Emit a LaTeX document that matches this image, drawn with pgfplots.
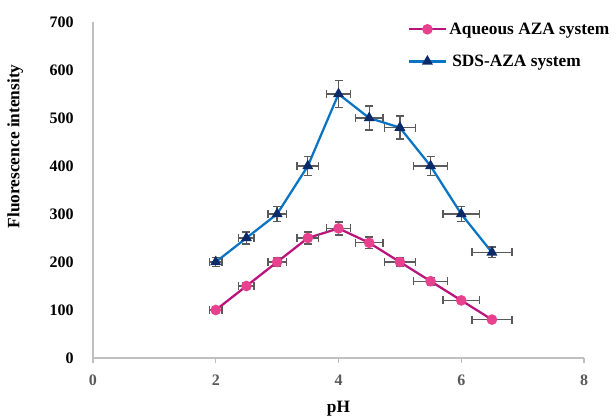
\documentclass[border=0pt]{standalone}
\usepackage{fontspec}
\setmainfont{Liberation Serif}
\usepackage{pgfplots}
\pgfplotsset{compat=1.18}
\definecolor{aqline}{HTML}{B8147C}
\definecolor{aqmark}{HTML}{E8428F}
\definecolor{sdsline}{HTML}{0A74C4}
\definecolor{sdsmark}{HTML}{0B2A6A}
\definecolor{errgrey}{HTML}{5A5A5A}
\definecolor{axisgrey}{HTML}{BFBFBF}
\definecolor{tickgrey}{HTML}{595959}

\pgfplotstableread{
x   y    ex     ey
2   100  0.10   5
2.5 150  0.125  7.5
3   200  0.15   10
3.5 250  0.175  12.5
4   270  0.20   13.5
4.5 240  0.225  12
5   200  0.25   10
5.5 160  0.275  8
6   120  0.30   6
6.5 80   0.325  4
}\aqueous
\pgfplotstableread{
x   y    ex     ey
2   200  0.10   10
2.5 250  0.125  12.5
3   300  0.15   15
3.5 400  0.175  20
4   550  0.20   27.5
4.5 500  0.225  25
5   480  0.25   24
5.5 400  0.275  20
6   300  0.30   15
6.5 220  0.325  11
}\sds

\begin{document}
\begin{tikzpicture}
\begin{axis}[
  at={(0,0)}, anchor=south west,
  scale only axis, width=368.25pt, height=252pt,
  xmin=0, xmax=8, ymin=0, ymax=700,
  xtick={0,2,4,6,8}, ytick={0,100,...,700},
  axis x line=bottom, axis y line=left,
  axis line style={-, axisgrey, line width=0.9pt},
  x tick style={axisgrey, line width=0.9pt}, tick align=outside,
  major tick length=4pt,
  y tick style={draw=none},
  xticklabel style={font=\bfseries\fontsize{12}{14}\selectfont, text=tickgrey, yshift=-5pt},
  yticklabel style={font=\bfseries\fontsize{12}{14}\selectfont, text=black, xshift=-7pt},
  /pgf/number format/assume math mode=true,
  xlabel={\textbf{pH}},
  xlabel style={font=\fontsize{13}{15}\selectfont, yshift=-4.5pt},
  ylabel={\textbf{Fluorescence intensity}},
  ylabel style={font=\fontsize{13}{15}\selectfont, at={(ticklabel cs:0.63,13pt)}},
  legend style={at={(rel axis cs:0.633,1.015)}, anchor=north west, draw=none, fill=none,
    font=\bfseries\fontsize{13}{15}\selectfont, row sep=10pt},
  legend cell align=left,
  legend image code/.code={
    \draw[mark repeat=2,mark phase=2] plot coordinates {(0cm,0cm) (0.48cm,0cm) (0.96cm,0cm)};},
  clip=false,
]
\addplot[aqline, line width=1.7pt, mark=*, mark size=3.1pt,
  mark options={fill=aqmark, draw=aqmark},
  error bars/.cd, x dir=both, x explicit, y dir=both, y explicit,
  error bar style={errgrey, line width=1pt},
  error mark options={errgrey, line width=1pt, rotate=90, mark size=3pt}]
  table[x=x, y=y, x error=ex, y error=ey] {\aqueous};
\addlegendentry{Aqueous AZA system}
\addplot[sdsline, line width=1.7pt, mark=triangle*, mark size=3.1pt,
  mark options={fill=sdsmark, draw=sdsmark},
  error bars/.cd, x dir=both, x explicit, y dir=both, y explicit,
  error bar style={errgrey, line width=1pt},
  error mark options={errgrey, line width=1pt, rotate=90, mark size=3pt}]
  table[x=x, y=y, x error=ex, y error=ey] {\sds};
\addlegendentry{\,SDS-AZA system}
\end{axis}
\pgfresetboundingbox
\path (-69.75pt,-44.25pt) rectangle (392.25pt,268.5pt);
\end{tikzpicture}
\end{document}
